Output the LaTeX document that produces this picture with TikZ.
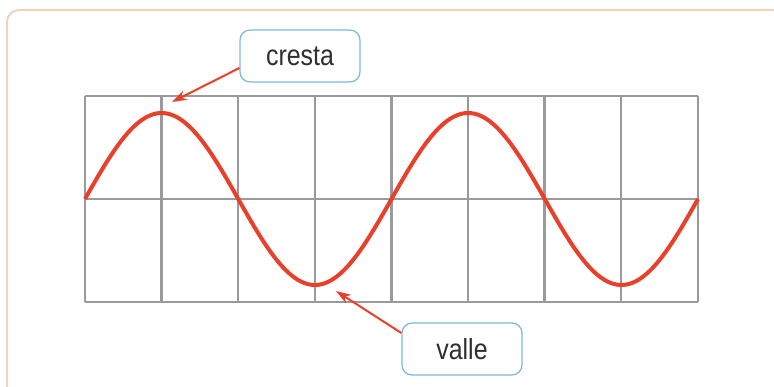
\documentclass[tikz,border=0pt]{standalone}
\usepackage{fontspec}
\newfontfamily\labelfont{Liberation Sans}[FakeStretch=0.86]
\usetikzlibrary{arrows.meta}
\definecolor{framecol}{HTML}{ECD5BD}
\definecolor{gridcol}{HTML}{9A9A9C}
\definecolor{wavecol}{HTML}{E8402A}
\definecolor{boxcol}{HTML}{7DB9D6}
\definecolor{textcol}{HTML}{2E2E2E}

\begin{document}
\begin{tikzpicture}[x=1pt,y=-1pt,
  label box/.style={draw=boxcol,line width=1.2pt,rounded corners=10pt,fill=white,
    minimum width=120pt,minimum height=52pt,inner sep=0pt,
    font=\labelfont\fontsize{29}{31}\selectfont,text=textcol},
  pointer/.style={draw=wavecol,line width=2pt,-{Stealth[length=15pt,width=10pt]}}]
\useasboundingbox (0,0) rectangle (774,387);
\clip (0,0) rectangle (774,387);
% Frame
\draw[framecol,line width=2pt,rounded corners=12pt] (7,10) rectangle (784,400);
% Grid
\foreach \i in {0,...,8}
  \draw[gridcol,line width=2.5pt] ({85+\i*76.6},96) -- ({85+\i*76.6},302);
\foreach \j in {96,199,302}
  \draw[gridcol,line width=2.5pt] (85,\j) -- (698,\j);
% Wave
\draw[wavecol,line width=4pt] plot[domain=0:720,samples=240,smooth]
  ({85+\x/360*306.5},{199-86*sin(\x)});
% Labels
\node[label box] (cresta) at (300,56) {cresta};
\node[label box] (valle) at (462,349) {valle};
\coordinate (crest) at (172,102);
\coordinate (trough) at (336,291);
\draw[pointer] (cresta.west |- 0,68) -- (crest);
\draw[pointer] (valle.west |- 0,333) -- (trough);
\end{tikzpicture}
\end{document}
